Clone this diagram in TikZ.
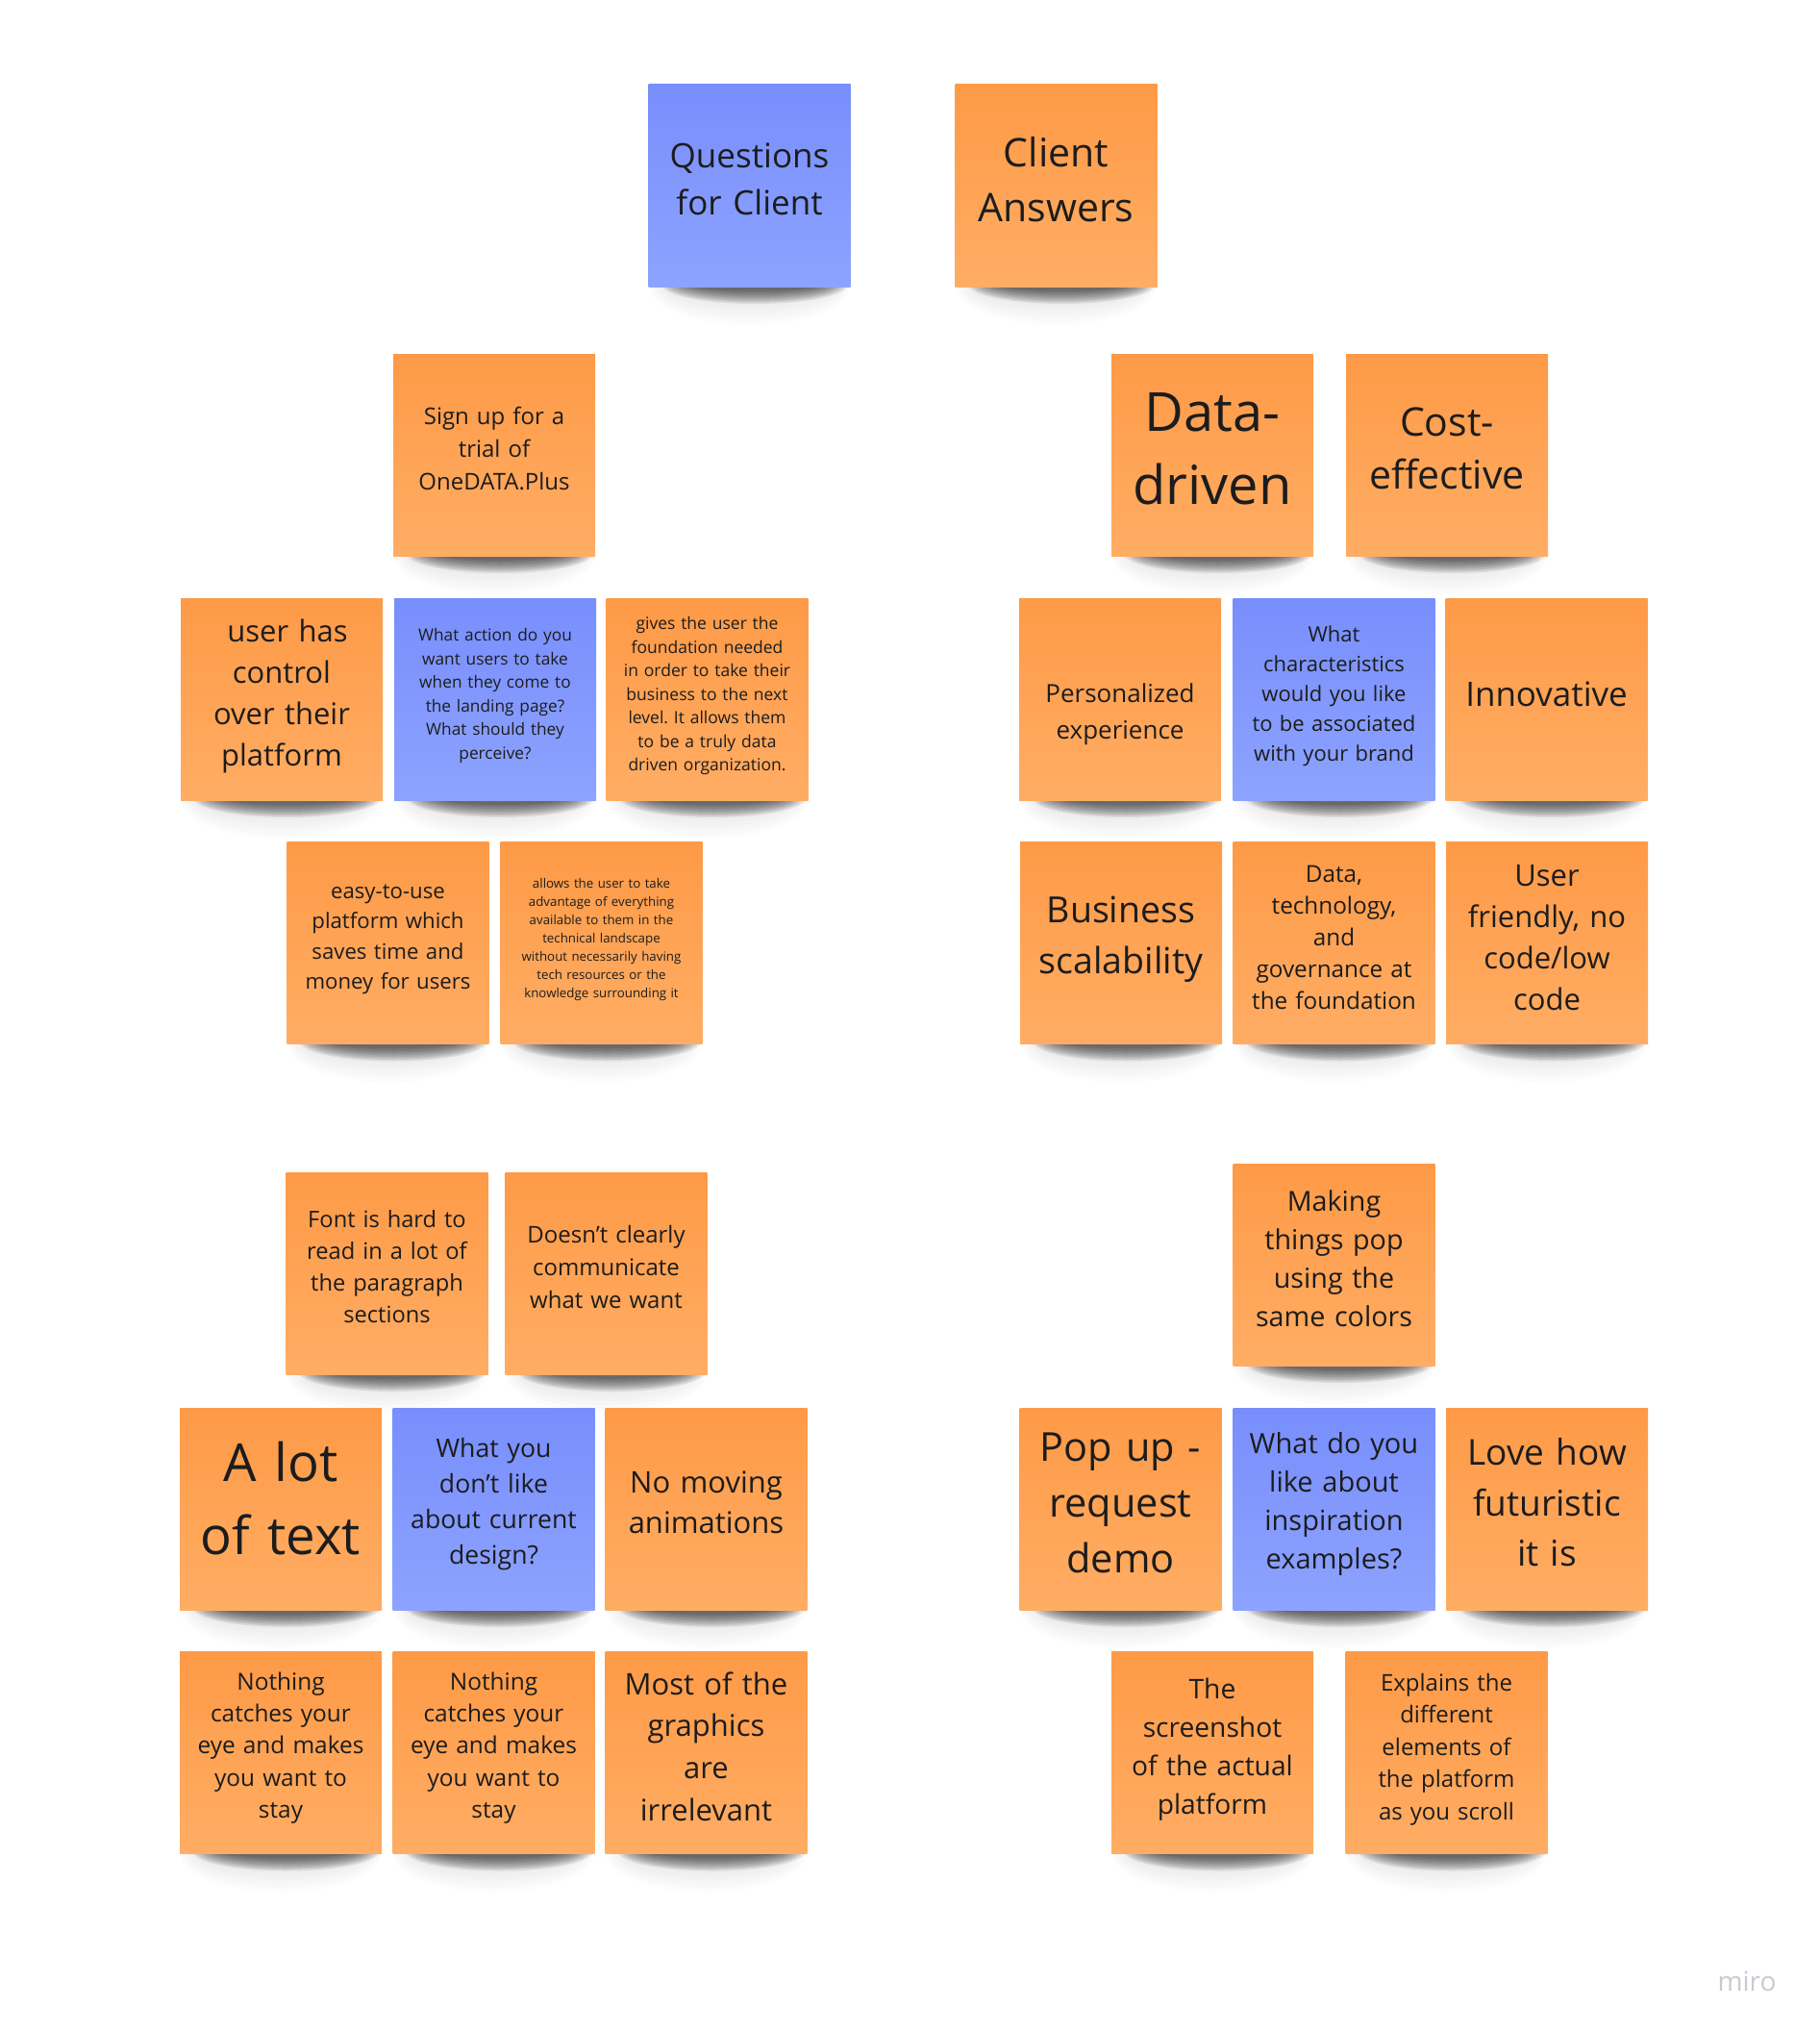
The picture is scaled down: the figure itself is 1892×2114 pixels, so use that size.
\documentclass[tikz,border=0pt]{standalone}
\usepackage{fontspec}
\setmainfont{Open Sans}
\usetikzlibrary{backgrounds,calc}
\definecolor{orTop}{HTML}{FE9A47}
\definecolor{orBot}{HTML}{FFAD64}
\definecolor{blTop}{HTML}{788EFC}
\definecolor{blBot}{HTML}{8DA3FF}
\definecolor{ink}{HTML}{1C1C1C}
\definecolor{logogray}{HTML}{C9C9D3}
\frenchspacing
\tikzset{
  note/.style={minimum width=210pt, minimum height=210pt, inner sep=0pt, outer sep=0pt,
    text=ink, text width=204pt, align=center},
  orangenote/.style={note, top color=orTop, bottom color=orBot},
  bluenote/.style={note, top color=blTop, bottom color=blBot},
  coreshadow/.style={fill=black, opacity=0.075},
  haloshadow/.style={fill=black, opacity=0.013},
}
% name, x, y, colour style, font size, line skip, text
\newcommand{\stickynote}[7]{%
  \node[#4, font=\fontsize{#5}{#6}\selectfont\frenchspacing] (#1) at (#2,#3) {#7\par\kern7pt};}
\begin{document}
\begin{tikzpicture}[x=1pt,y=-1pt]
\useasboundingbox (0,0) rectangle (1892,2114);

% top headers
\stickynote{q0}{779.5}{193}{bluenote}{35}{49}{Questions\\for Client\par\kern6pt}
\stickynote{a0}{1098.5}{193}{orangenote}{41}{57}{Client\\Answers\par\kern6pt}

% row 2
\stickynote{q1}{514}{473}{orangenote}{24}{34}{Sign up for a\\trial of\\OneDATA.Plus\par\kern6pt}
\stickynote{a1}{1261}{473}{orangenote}{56}{76}{Data-\\driven\par\kern6pt}
\stickynote{a2}{1505}{473}{orangenote}{41}{55}{Cost-\\effective\par\kern6pt}

% row 3
\stickynote{q2}{293}{727}{orangenote}{31}{43}{\hspace*{12pt}user has\\control\\over their\\platform}
\stickynote{q3}{515}{727}{bluenote}{17.3}{24.5}{What action do you\\want users to take\\when they come to\\the landing page?\\What should they\\perceive?}
\stickynote{q4}{735.5}{727}{orangenote}{17.5}{24.5}{gives the user the\\foundation needed\\in order to take their\\business to the next\\level. It allows them\\to be a truly data\\driven organization.}
\stickynote{a3}{1165}{727}{orangenote}{26}{38}{Personalized\\experience\par\kern-38pt\relax}
\stickynote{a4}{1387.5}{727}{bluenote}{22}{31}{What\\characteristics\\would you like\\to be associated\\with your brand}
\stickynote{a5}{1608.5}{727}{orangenote}{35}{48}{Innovative\par\kern3pt}

% row 4
\stickynote{q5}{403.5}{980.5}{orangenote}{22.2}{31.5}{easy-to-use\\platform which\\saves time and\\money for users}
\stickynote{q6}{625.5}{980.5}{orangenote}{13.3}{19}{allows the user to take\\advantage of everything\\available to them in the\\technical landscape\\without necessarily having\\tech resources or the\\knowledge surrounding it}
\stickynote{a6}{1166}{980.5}{orangenote}{37.5}{53}{Business\\scalability}
\stickynote{a7}{1387.5}{980.5}{orangenote}{24.3}{33}{Data,\\technology,\\and\\governance at\\the foundation\par\kern4pt}
\stickynote{a8}{1609}{980.5}{orangenote}{31}{43}{User\\friendly, no\\code/low\\code\par\kern4pt}

% row 5
\stickynote{q7}{402.5}{1324}{orangenote}{23.7}{33}{Font is hard to\\read in a lot of\\the paragraph\\sections\par\kern6pt}
\stickynote{q8}{630.5}{1324}{orangenote}{24}{34}{Doesn’t clearly\\communicate\\what we want\par\kern6pt}
\stickynote{a9}{1387.5}{1315}{orangenote}{28.7}{40}{Making\\things pop\\using the\\same colors\par\kern6pt}

% row 6
\stickynote{q9}{292}{1569}{orangenote}{54.5}{75.5}{A lot\\of text\par\kern15pt}
\stickynote{q10}{513.5}{1569}{bluenote}{26.6}{37}{What you\\don’t like\\about current\\design?\par\kern3pt}
\stickynote{q11}{734.5}{1569}{orangenote}{31}{42}{No moving\\animations\par\kern6pt}
\stickynote{a10}{1165.5}{1569}{orangenote}{41.5}{58}{Pop up -\\request\\demo\par\kern6pt}
\stickynote{a11}{1387.5}{1569}{bluenote}{29}{40}{What do you\\like about\\inspiration\\examples?\par\kern3pt}
\stickynote{a12}{1609}{1569}{orangenote}{37}{52.6}{Love how\\futuristic\\it is\par\kern6pt}

% row 7
\stickynote{q12}{292}{1822.5}{orangenote}{24.4}{33.4}{Nothing\\catches your\\eye and makes\\you want to\\stay\par\kern3pt}
\stickynote{q13}{513.5}{1822.5}{orangenote}{24.4}{33.4}{Nothing\\catches your\\eye and makes\\you want to\\stay\par\kern3pt}
\stickynote{q14}{734.5}{1822.5}{orangenote}{31}{43.6}{Most of the\\graphics\\are\\irrelevant\par\kern6pt}
\stickynote{a13}{1261}{1822.5}{orangenote}{28.2}{40}{The\\screenshot\\of the actual\\platform}
\stickynote{a14}{1504.5}{1822.5}{orangenote}{24}{33.4}{Explains the\\different\\elements of\\the platform\\as you scroll}

% logo
\node[text=logogray, font=\fontsize{28}{34}\selectfont, anchor=base, inner sep=0pt] (miro) at (1817,2070) {miro};

% shadows
\begin{scope}[on background layer]
  \fill[white] (0,0) rectangle (1892,2114);
  \foreach \n in {q0,a0,q1,a1,a2,q2,q3,q4,a3,a4,a5,q5,q6,a6,a7,a8,q7,q8,a9,q9,q10,q11,a10,a11,a12,q12,q13,q14,a13,a14}{
    \foreach \k in {0,...,6}{
      \path[haloshadow] ($(\n.south)+(0,0)$) ellipse [x radius={104pt-3pt*\k}, y radius={40pt-4pt*\k}];
    }
    \foreach \k in {0,...,9}{
      \path[coreshadow] ($(\n.south)+(6,-3)$) ellipse [x radius={98pt-3.2pt*\k}, y radius={21pt-1.5pt*\k}];
    }
  }
\end{scope}
\end{tikzpicture}
\end{document}
